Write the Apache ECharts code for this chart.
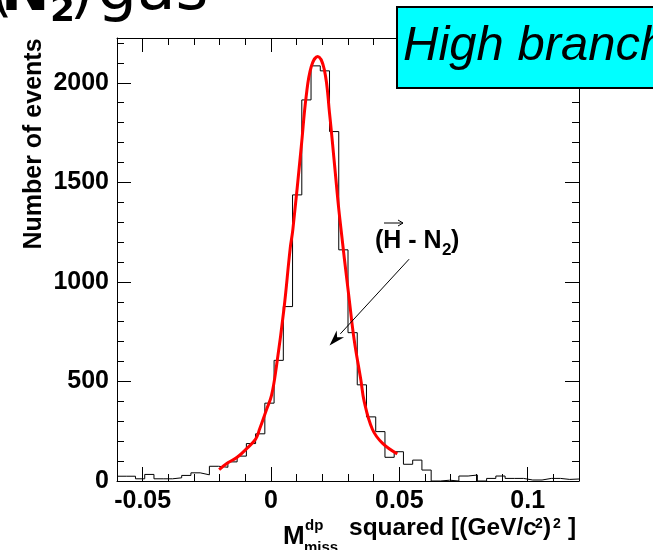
<!DOCTYPE html>
<html>
<head>
<meta charset="utf-8">
<script src="https://cdn.jsdelivr.net/npm/echarts@6/dist/echarts.min.js"></script>
<style>
html,body{margin:0;padding:0;background:#fff;}
#container{width:653px;height:550px;}
</style>
</head>
<body>
<div id="container"></div>
<script>
// histogram: 50 bins from -0.06 to 0.12
var binStart = -0.06;
var binWidth = 0.0036;
var counts = [24, 24, 11, 33, 11, 11, 16, 28, 41, 31,
              74, 69, 96, 125, 188, 237, 391, 606, 876, 1437,
              1914, 2085, 2060, 1755, 1161, 745, 483, 322, 248, 119,
              147, 84, 105, 55, 0, 4, 0, 25, 30, 0,
              13, 25, 13, 13, 5, 5, 13, 13, 8, 10];

// red fit curve
var fitX = [-0.0202, -0.0171, -0.0132, -0.0093, -0.0060, -0.0044, -0.0018, 0.0002, 0.0021, 0.0050,
            0.0075, 0.0085, 0.0118, 0.0137, 0.0157, 0.0182, 0.0208, 0.0228, 0.0247, 0.0267,
            0.0305, 0.0324, 0.0350, 0.0363, 0.0395, 0.0434, 0.0492];
var fitY = [57, 89, 119, 165, 210, 262, 357, 430, 574, 859,
            1171, 1261, 1680, 1931, 2082, 2132, 2065, 1848, 1596, 1330,
            910, 709, 508, 400, 260, 190, 136];

var xTicks = [-0.05, 0, 0.05, 0.1];
var yTicks = [0, 500, 1000, 1500, 2000];

// arrow of the (H - N2) note, in data units: from -> to
var arrowFrom = [0.0538, 1114];
var arrowTo = [0.0228, 680];

var xMin = -0.06, xMax = 0.12, yMin = 0, yMax = 2225;

var xMinor = [];
for (var i = -6; i <= 12; i++) xMinor.push(i / 100);
var yMinor = [];
for (var j = 0; j <= 2200; j += 100) yMinor.push(j);

var histData = [];
for (var k = 0; k < counts.length; k++) {
	histData.push([binStart + k * binWidth, counts[k]]);
}
histData.push([binStart + counts.length * binWidth, counts[counts.length - 1]]);

var fitData = [];
for (var m = 0; m < fitX.length; m++) fitData.push([fitX[m], fitY[m]]);

function labelStyle(vals) {
	return {customValues: vals, margin: 8, fontFamily: 'Liberation Sans', fontWeight: 'bold', fontSize: 25, color: '#000',
		formatter: function (v) { return String(v); }};
}
function xaxis(pos, len, vals, labels) {
	return {
		type: 'value', min: xMin, max: xMax, position: pos,
		axisLine: {show: len < 10, onZero: false, lineStyle: {color: '#000', width: 1}},
		axisTick: {show: true, inside: true, length: len, customValues: vals, lineStyle: {color: '#000', width: 1}},
		axisLabel: labels ? labelStyle(xTicks) : {show: false},
		splitLine: {show: false}
	};
}
function yaxis(pos, len, vals, labels) {
	return {
		type: 'value', min: yMin, max: yMax, position: pos,
		axisLine: {show: len < 10, onZero: false, lineStyle: {color: '#000', width: 1}},
		axisTick: {show: true, inside: true, length: len, customValues: vals, lineStyle: {color: '#000', width: 1}},
		axisLabel: labels ? labelStyle(yTicks) : {show: false},
		splitLine: {show: false}
	};
}

function txt(x, y, s, size, opt) {
	opt = opt || {};
	return {
		type: 'text', x: x, y: y, z: 100, rotation: opt.rot || 0,
		style: {
			text: s, fill: '#000',
			font: (opt.italic ? 'italic ' : '') + (opt.bold ? 'bold ' : '') + size + 'px ' + (opt.family || 'Liberation Sans'),
			textAlign: opt.align || 'left', textVerticalAlign: 'middle'
		}
	};
}

var option = {
	animation: false,
	backgroundColor: '#fff',
	grid: {left: 117, right: 74, top: 38, bottom: 69, containLabel: false},
	xAxis: [
		xaxis('bottom', 7, xMinor, false),
		xaxis('bottom', 14, xTicks, true),
		xaxis('top', 7, xMinor, false),
		xaxis('top', 14, xTicks, false)
	],
	yAxis: [
		yaxis('left', 7, yMinor, false),
		yaxis('left', 14, yTicks, true),
		yaxis('right', 7, yMinor, false),
		yaxis('right', 14, yTicks, false)
	],
	series: [
		{
			name: 'hist', type: 'line', step: 'end', data: histData,
			showSymbol: false, silent: true,
			lineStyle: {color: '#000', width: 1}
		},
		{
			name: 'fit', type: 'line', data: fitData, smooth: 0.4,
			showSymbol: false, silent: true, z: 3,
			lineStyle: {color: '#ff0000', width: 3}
		}
	]
};

var mychart = echarts.init(document.getElementById('container'));
mychart.setOption(option);

// arrow drawn through the axes
var pa = mychart.convertToPixel({xAxisIndex: 0, yAxisIndex: 0}, arrowFrom);
var pb = mychart.convertToPixel({xAxisIndex: 0, yAxisIndex: 0}, arrowTo);
var ang = Math.atan2(pb[1] - pa[1], pb[0] - pa[0]);
var hl = 16, hw = 5;
var bx = pb[0] - hl * Math.cos(ang), by = pb[1] - hl * Math.sin(ang);
var nx = -Math.sin(ang) * hw, ny = Math.cos(ang) * hw;

var graphics = [
	// slide title, cut off at top
	txt(-10, -5, '(', 58, {family: 'DejaVu Sans'}),
	txt(1, -5, 'N', 58, {family: 'DejaVu Sans', bold: true}),
	txt(50, 12, '2', 36, {family: 'DejaVu Sans', bold: true}),
	txt(70, -5, ')', 60, {family: 'DejaVu Sans'}),
	txt(97, -7, 'gas', 63, {family: 'DejaVu Sans'}),
	{
		type: 'rect', z: 99,
		shape: {x: 397, y: 7, width: 270, height: 81},
		style: {fill: '#00ffff', stroke: '#000', lineWidth: 2}
	},
	txt(403, 46, 'High branch', 49, {italic: true}),
	// note
	txt(375, 241, '(H - N', 25, {bold: true}),
	txt(442, 250, '2', 17, {bold: true}),
	txt(451, 241, ')', 25, {bold: true}),
	{type: 'line', z: 100, shape: {x1: 384, y1: 223, x2: 403, y2: 223}, style: {stroke: '#000', lineWidth: 1}},
	{type: 'polyline', z: 100, shape: {points: [[398, 220], [403, 223], [398, 226]]}, style: {stroke: '#000', lineWidth: 1, fill: null}},
	{type: 'line', z: 100, shape: {x1: pa[0], y1: pa[1], x2: bx, y2: by}, style: {stroke: '#000', lineWidth: 1}},
	{type: 'polygon', z: 100, shape: {points: [[pb[0], pb[1]], [bx + nx, by + ny], [bx + 0.3 * hl * Math.cos(ang), by + 0.3 * hl * Math.sin(ang)], [bx - nx, by - ny]]}, style: {fill: '#000'}},
	// axis titles
	txt(34, 144, 'Number of events', 25, {bold: true, rot: Math.PI / 2, align: 'center'}),
	txt(283, 537, 'M', 26, {bold: true}),
	txt(305, 526, 'dp', 15, {bold: true}),
	txt(304, 548, 'miss', 15, {bold: true}),
	txt(349, 528, 'squared [(GeV/c', 24.5, {bold: true}),
	txt(535, 524, '2', 14, {bold: true}),
	txt(543, 528, ')', 24.5, {bold: true}),
	txt(553, 524, '2', 14, {bold: true}),
	txt(568, 528, ']', 24.5, {bold: true})
];
mychart.setOption({graphic: graphics});
</script>
</body>
</html>
